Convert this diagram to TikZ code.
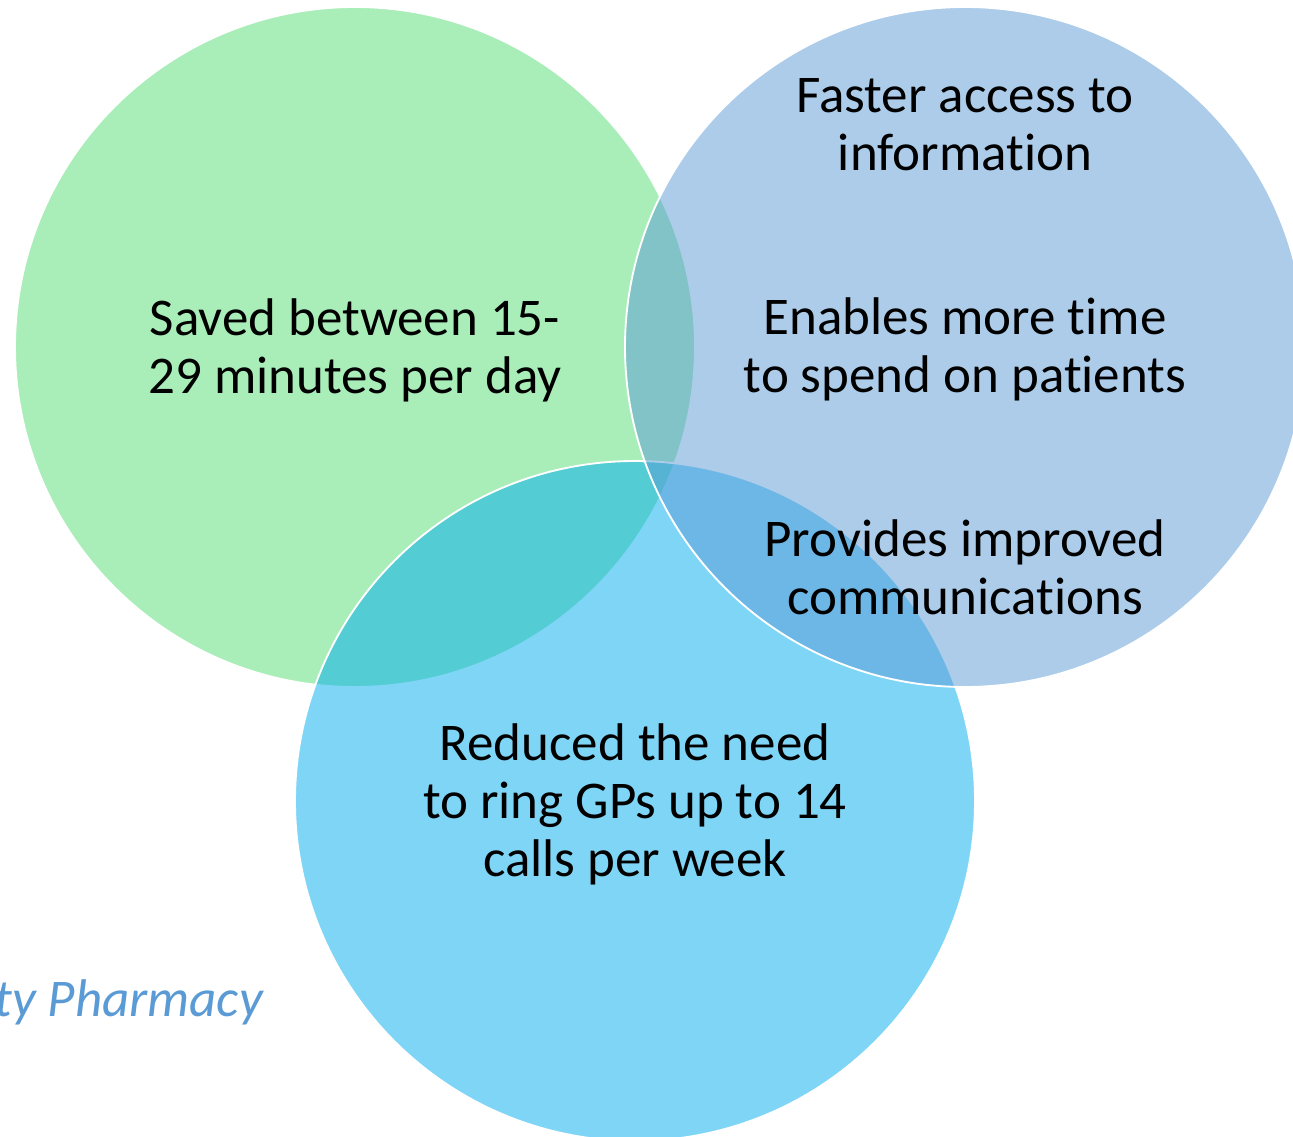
\documentclass[tikz,border=0pt]{standalone}
\usepackage{fontspec}
\setmainfont{Carlito}[Ligatures={NoCommon,NoRequired,NoContextual}]
\definecolor{vgreen}{RGB}{85,221,117}
\definecolor{vcyan}{RGB}{1,173,239}
\definecolor{vblue}{RGB}{91,155,213}
\definecolor{titleblue}{RGB}{91,155,213}
\tikzset{
  venn/.style={draw=white, line width=1.4pt, fill opacity=0.5},
  vtext/.style={align=center, inner sep=0pt, anchor=base,
    font=\fontsize{39.75pt}{43.5pt}\selectfont, text=black},
}
\begin{document}
\begin{tikzpicture}[x=0.75pt,y=-0.75pt]
\useasboundingbox (0,0) rectangle (1293,1137);
\clip (0,0) rectangle (1293,1137);
\fill[white] (0,0) rectangle (1293,1137);
% circles
\draw[venn, fill=vgreen] (355,347) circle[radius=340];
\draw[venn, fill=vcyan] (635,801) circle[radius=340];
\draw[venn, fill=vblue] (965,347) circle[radius=340];
% texts (anchor = baseline of last line)
\node[vtext] (g1) at (355,394) {Saved between 15-\\29 minutes per day};
\node[vtext] (b1) at (965,171) {Faster access to\\information};
\node[vtext] (b2) at (965,393) {Enables more time\\to spend on patients};
\node[vtext] (b3) at (965,614) {Provides improved\\communications};
\node[vtext] (c1) at (635,876) {Reduced the need\\to ring GPs up to 14\\calls per week};
\node[inner sep=0pt, anchor=base east, text=titleblue,
  font=\fontsize{39.75pt}{43.5pt}\selectfont\itshape] (t) at (263,1016) {ty Pharmacy};
\end{tikzpicture}
\end{document}
